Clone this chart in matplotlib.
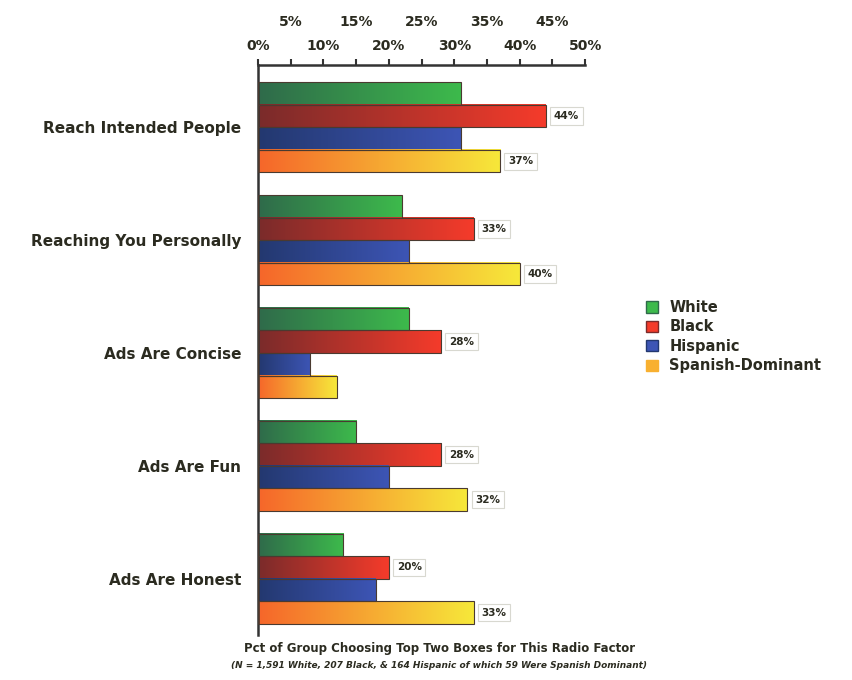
import matplotlib.pyplot as plt
import numpy as np
from matplotlib.colors import LinearSegmentedColormap
from matplotlib.patches import Rectangle

categorias = ['Reach Intended People', 'Reaching You Personally', 'Ads Are Concise',
              'Ads Are Fun', 'Ads Are Honest']
grupos = ['White', 'Black', 'Hispanic', 'Spanish-Dominant']
white = [31, 22, 23, 15, 13]
black = [44, 33, 28, 28, 20]
hispanic = [31, 23, 8, 20, 18]
spanish = [37, 40, 12, 32, 33]
# which bars carry a value label in the original
rot_black = [True, True, True, True, True]
rot_spanish = [True, True, False, True, True]
rot_nenhum = [False] * 5

cores = [('#2f6a4a', '#3dba4c'), ('#7a2b2b', '#f53b2a'),
         ('#23386f', '#3d55b5'), ('#f5662a', '#f7e83a')]
texto = '#2b2b20'

fig = plt.figure(figsize=(8.53, 6.8), dpi=100)
ax = fig.add_axes([0.3025, 0.066, 0.3835, 0.838])

altura = 0.2
desloc = [-0.3, -0.1, 0.1, 0.3]
series = [white, black, hispanic, spanish]
rotulos = [rot_nenhum, rot_black, rot_nenhum, rot_spanish]

for s, (valores, (c1, c2)) in enumerate(zip(series, cores)):
    cmap = LinearSegmentedColormap.from_list('g%d' % s, [c1, c2])
    grad = np.linspace(0, 1, 256).reshape(1, -1)
    for i, v in enumerate(valores):
        y = i + desloc[s]
        ax.imshow(grad, cmap=cmap, aspect='auto', interpolation='bilinear',
                  extent=[0, v, y + altura / 2, y - altura / 2], zorder=2)
        ax.add_patch(Rectangle((0, y - altura / 2), v, altura, fill=False,
                               edgecolor='#4a3a30', linewidth=0.8, zorder=3))
        if rotulos[s][i]:
            ax.text(v + 1.2, y, '%d%%' % v, ha='left', va='center', fontsize=7.5,
                    fontweight='bold', color=texto, zorder=4,
                    bbox=dict(boxstyle='square,pad=0.35', facecolor='white',
                              edgecolor='#d8d8d0', linewidth=0.8))

ax.set_xlim(0, 50)
ax.set_ylim(4.5, -0.55)
ax.set_yticks(range(len(categorias)))
ax.set_yticklabels(categorias, fontsize=11, fontweight='bold', color=texto)
ax.tick_params(axis='y', length=0, pad=12)

ax.xaxis.tick_top()
ax.set_xticks(range(0, 51, 10))
ax.set_xticklabels(['%d%%' % x for x in range(0, 51, 10)], fontsize=10,
                   fontweight='bold', color=texto)
ax.set_xticks(range(5, 50, 10), minor=True)
ax.set_xticklabels(['%d%%' % x for x in range(5, 50, 10)], minor=True, fontsize=10,
                   fontweight='bold', color=texto)
ax.tick_params(axis='x', which='major', length=4, width=1.5, pad=5, color='#333')
ax.tick_params(axis='x', which='minor', length=4, width=1.5, pad=22, color='#333')

for lado in ['right', 'bottom']:
    ax.spines[lado].set_visible(False)
ax.spines['top'].set_linewidth(1.8)
ax.spines['left'].set_linewidth(1.8)
ax.spines['top'].set_color('#333')
ax.spines['left'].set_color('#333')

handles = [Rectangle((0, 0), 1, 1, facecolor=c[1], edgecolor=c[0]) for c in cores]
handles[3] = Rectangle((0, 0), 1, 1, facecolor='#f8b030', edgecolor='#f8b030')
leg = fig.legend(handles, grupos, loc='center left', bbox_to_anchor=(0.742, 0.505),
                 frameon=False, handlelength=0.8, handleheight=0.8, labelspacing=0.3,
                 prop={'size': 10.5, 'weight': 'bold'})
for t in leg.get_texts():
    t.set_color(texto)

fig.text(0.515, 0.047, 'Pct of Group Choosing Top Two Boxes for This Radio Factor',
         ha='center', va='center', fontsize=8.5, fontweight='bold', color=texto)
fig.text(0.515, 0.021, '(N = 1,591 White, 207 Black, & 164 Hispanic of which 59 Were Spanish Dominant)',
         ha='center', va='center', fontsize=6.5, fontweight='bold', style='italic', color=texto)

fig.savefig('out.png', dpi=100)
